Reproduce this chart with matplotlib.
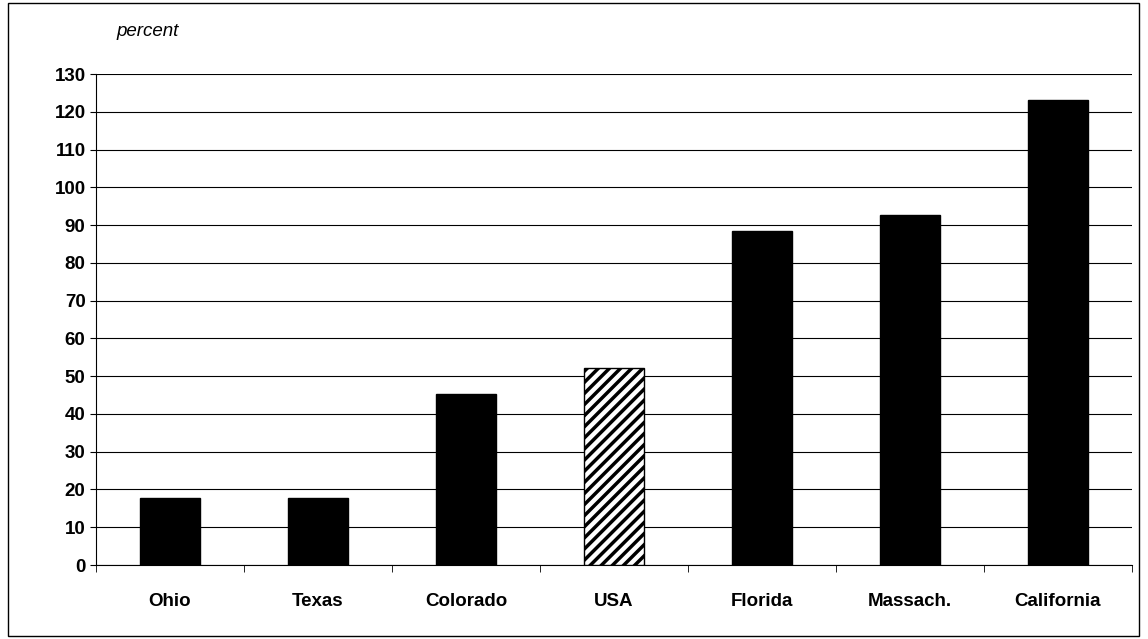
import matplotlib.pyplot as plt
from matplotlib.patches import Rectangle

plt.rcParams['font.family'] = ['Liberation Sans', 'DejaVu Sans']
plt.rcParams['hatch.linewidth'] = 2.5

states = ['Ohio', 'Texas', 'Colorado', 'USA', 'Florida', 'Massach.', 'California']
values = [17.8, 17.8, 45.3, 52.3, 88.5, 92.8, 123.2]

fig = plt.figure(figsize=(11.48, 6.39), dpi=100)
fig.patches.append(Rectangle((0.007, 0.005), 0.985, 0.99, transform=fig.transFigure,
                             fill=False, edgecolor='black', linewidth=1))
ax = fig.add_axes([0.0836, 0.1158, 0.9024, 0.7682])

x = list(range(len(states)))
for i, v in enumerate(values):
    if states[i] == 'USA':
        ax.bar(i, v, width=0.41, color='white', edgecolor='black', hatch='///', linewidth=1, zorder=3)
    else:
        ax.bar(i, v, width=0.41, color='black', edgecolor='black', zorder=3)

ax.set_xlim(-0.5, len(states) - 0.5)
ax.set_ylim(0, 130)
ax.set_yticks(range(0, 131, 10))
ax.set_yticklabels([str(t) for t in range(0, 131, 10)], fontsize=13.5, fontweight='bold')
ax.yaxis.grid(True, color='black', linewidth=0.8, zorder=0)
ax.set_xticks(x)
ax.set_xticklabels(states, fontsize=13.5, fontweight='bold')
ax.tick_params(axis='x', length=0, pad=20)
ax.tick_params(axis='y', length=4, direction='out')
ax.set_xticks([i + 0.5 for i in range(-1, len(states))], minor=True)
ax.tick_params(axis='x', which='minor', length=5, direction='out')
for s in ['top', 'right']:
    ax.spines[s].set_visible(False)
ax.text(0.02, 1.078, 'percent', transform=ax.transAxes, fontsize=13.5, style='italic')

fig.savefig('out.png')
